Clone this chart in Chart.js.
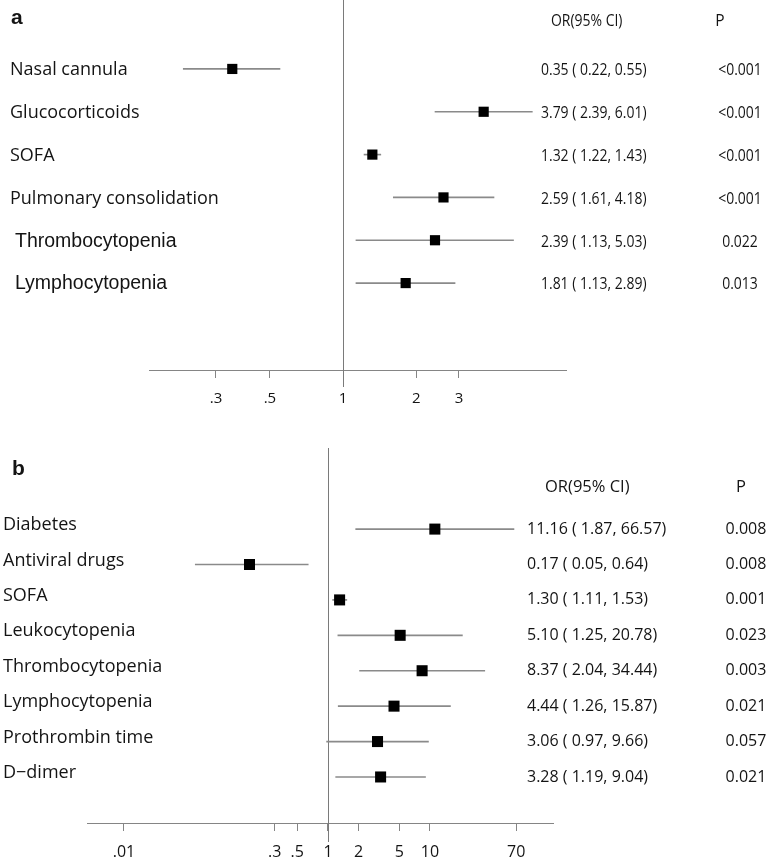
<!DOCTYPE html>
<html>
<head>
<meta charset="utf-8">
<title>Forest plots</title>
<script src="https://cdn.jsdelivr.net/npm/chart.js@4"></script>
<style>
    body { margin: 0; background: #fff; }
    canvas { display: block; }
</style>
</head>
<body>
<canvas id="plotA" width="773" height="430"></canvas>
<canvas id="plotB" width="773" height="431"></canvas>
<script>
// panel a
const namesA = ["Nasal cannula", "Glucocorticoids", "SOFA", "Pulmonary consolidation", "Thrombocytopenia", "Lymphocytopenia"];
const orA = [0.35, 3.79, 1.32, 2.59, 2.39, 1.81];
const loA = [0.22, 2.39, 1.22, 1.61, 1.13, 1.13];
const hiA = [0.55, 6.01, 1.43, 4.18, 5.03, 2.89];
const pA = ["<0.001", "<0.001", "<0.001", "<0.001", "0.022", "0.013"];
const ticksA = [0.3, 0.5, 1, 2, 3];
const tickLabelsA = [".3", ".5", "1", "2", "3"];

// panel b
const namesB = ["Diabetes", "Antiviral drugs", "SOFA", "Leukocytopenia", "Thrombocytopenia", "Lymphocytopenia", "Prothrombin time", "D\u2212dimer"];
const orB = [11.16, 0.17, 1.30, 5.10, 8.37, 4.44, 3.06, 3.28];
const loB = [1.87, 0.05, 1.11, 1.25, 2.04, 1.26, 0.97, 1.19];
const hiB = [66.57, 0.64, 1.53, 20.78, 34.44, 15.87, 9.66, 9.04];
const pB = ["0.008", "0.008", "0.001", "0.023", "0.003", "0.021", "0.057", "0.021"];
const ticksB = [0.01, 0.3, 0.5, 1, 2, 5, 10, 70];
const tickLabelsB = [".01", ".3", ".5", "1", "2", "5", "10", "70"];

const TEXT = "#141414";
const LINE = "#8a8a8a";

// text squeezed horizontally (the OR column of panel a is condensed)
function squeezedText(ctx, txt, x, y, sx) {
    ctx.save();
    ctx.translate(x, y);
    ctx.scale(sx, 1);
    ctx.fillText(txt, 0, 0);
    ctx.restore();
}

// reference line at OR = 1 plus the text columns around the plot
const forestText = {
    id: "forestText",
    beforeDatasetsDraw(chart, args, o) {
        const { ctx, chartArea, scales } = chart;
        const x1 = Math.round(scales.x.getPixelForValue(1)) + 0.5;
        ctx.save();
        ctx.strokeStyle = "#7a7a7a";
        ctx.lineWidth = 1;
        ctx.beginPath();
        ctx.moveTo(x1, chartArea.top);
        ctx.lineTo(x1, chartArea.bottom + o.refDrop);
        ctx.stroke();
        ctx.restore();
    },
    afterDraw(chart, args, o) {
        const { ctx, scales } = chart;
        const y = scales.y;
        ctx.save();
        ctx.fillStyle = TEXT;
        ctx.textBaseline = "middle";

        ctx.font = o.letterFont;
        ctx.textAlign = "left";
        ctx.fillText(o.letter, o.letterX, o.letterY);

        ctx.font = o.headFont;
        squeezedText(ctx, "OR(95% CI)", o.headOrX, o.headY, o.squeeze);
        ctx.textAlign = "center";
        ctx.fillText("P", o.headPX, o.headY);

        o.names.forEach((name, i) => {
            const row = y.getPixelForValue(i);
            const f = o.nameFont(i);
            ctx.font = f.font;
            ctx.textAlign = "left";
            ctx.fillText(name, f.x, row + o.nameShift);

            ctx.font = o.valFont;
            const txt = o.or[i].toFixed(2) + " ( " + o.lo[i].toFixed(2) + ", " + o.hi[i].toFixed(2) + ")";
            squeezedText(ctx, txt, o.orX, row + o.valShift, o.squeeze);
            ctx.textAlign = "center";
            squeezedText(ctx, o.p[i], o.pX, row + o.valShift, o.squeeze);
        });
        ctx.restore();
    }
};

function makeForest(id, d, lay) {
    const ctx = document.getElementById(id).getContext("2d");
    return new Chart(ctx, {
        type: "bar",
        data: {
            datasets: [
                {
                    type: "bar",
                    order: 2,
                    data: d.lo.map((lo, i) => ({ x: [lo, d.hi[i]], y: i })),
                    backgroundColor: LINE,
                    barThickness: 1,
                    borderWidth: 0
                },
                {
                    type: "scatter",
                    order: 1,
                    data: d.or.map((v, i) => ({ x: v, y: i })),
                    pointStyle: "rect",
                    pointRadius: lay.pointRadius,
                    backgroundColor: "#000",
                    borderWidth: 0
                }
            ]
        },
        options: {
            indexAxis: "y",
            responsive: false,
            animation: false,
            events: [],
            layout: { padding: lay.padding, autoPadding: false },
            scales: {
                y: {
                    type: "linear", reverse: true, offset: false,
                    min: lay.yMin, max: lay.yMax, display: false
                },
                x: {
                    type: "logarithmic",
                    min: lay.xMin,
                    max: lay.xMax,
                    afterBuildTicks: s => { s.ticks = d.ticks.map(v => ({ value: v })); },
                    afterFit: s => { s.height = lay.axisHeight; },
                    ticks: {
                        autoSkip: false,
                        maxRotation: 0,
                        padding: 12,
                        color: TEXT,
                        font: { family: "Open Sans", size: lay.tickSize },
                        callback: (v, i) => d.tickLabels[i]
                    },
                    grid: { drawOnChartArea: false, drawTicks: true, tickLength: 8, color: "#858585" },
                    border: { color: "#858585" }
                }
            },
            plugins: {
                legend: { display: false },
                tooltip: { enabled: false },
                forestText: {
                    names: d.names, or: d.or, lo: d.lo, hi: d.hi, p: d.p,
                    ...lay.text
                }
            }
        },
        plugins: [forestText]
    });
}

makeForest("plotA",
    { names: namesA, or: orA, lo: loA, hi: hiA, p: pA, ticks: ticksA, tickLabels: tickLabelsA },
    {
        padding: { left: 149, right: 207, top: 0, bottom: 0 },
        xMin: 0.159, xMax: 8.27,
        yMin: -1.61, yMax: 7.03,
        axisHeight: 60,
        tickSize: 15,
        pointRadius: 7.2,
        text: {
            refDrop: 17,
            letter: "a", letterX: 11, letterY: 18,
            letterFont: "bold 21px 'Liberation Sans', Arial, sans-serif",
            headFont: "15.5px 'Open Sans'", headOrX: 551, headPX: 720, headY: 22,
            nameFont: i => i < 4
                ? { font: "18px 'Open Sans'", x: 10 }
                : { font: "19.5px 'Liberation Sans', Arial", x: 15 },
            nameShift: 1,
            valFont: "15.5px 'Open Sans'", orX: 541, pX: 740, valShift: 2,
            squeeze: 0.9
        }
    });

makeForest("plotB",
    { names: namesB, or: orB, lo: loB, hi: hiB, p: pB, ticks: ticksB, tickLabels: tickLabelsB },
    {
        padding: { left: 87, right: 220, top: 18, bottom: 0 },
        xMin: 0.00434, xMax: 160.7,
        yMin: -2.29, yMax: 8.30,
        axisHeight: 38,
        tickSize: 16,
        pointRadius: 7.8,
        text: {
            refDrop: 19,
            letter: "b", letterX: 12, letterY: 39,
            letterFont: "bold 21px 'Liberation Sans', Arial, sans-serif",
            headFont: "16.5px 'Open Sans'", headOrX: 545, headPX: 741, headY: 57,
            nameFont: i => ({ font: "18px 'Open Sans'", x: 3 }),
            nameShift: -4,
            valFont: "16px 'Open Sans'", orX: 527, pX: 746, valShift: 0,
            squeeze: 1
        }
    });
</script>
</body>
</html>
